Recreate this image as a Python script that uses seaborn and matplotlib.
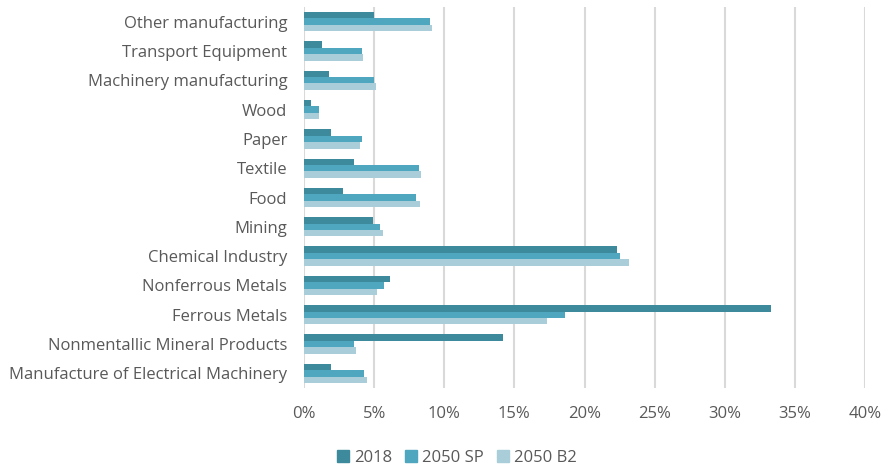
import matplotlib
matplotlib.use("Agg")
import matplotlib.pyplot as plt
import seaborn as sns
import pandas as pd
from matplotlib.ticker import FuncFormatter

categories = ["Other manufacturing", "Transport Equipment", "Machinery manufacturing", "Wood",
              "Paper", "Textile", "Food", "Mining", "Chemical Industry", "Nonferrous Metals",
              "Ferrous Metals", "Nonmentallic Mineral Products", "Manufacture of Electrical Machinery"]
v2018 = [5.0, 1.25, 1.75, 0.5, 1.95, 3.6, 2.8, 4.9, 22.3, 6.1, 33.3, 14.2, 1.95]
v2050sp = [9.0, 4.1, 5.0, 1.05, 4.1, 8.2, 8.0, 5.4, 22.5, 5.7, 18.6, 3.6, 4.3]
v2050b2 = [9.15, 4.2, 5.1, 1.05, 4.0, 8.35, 8.25, 5.6, 23.2, 5.2, 17.3, 3.7, 4.5]
series = ["2018", "2050 SP", "2050 B2"]
colors = ["#3d8a9d", "#4fa7bf", "#a9cdd9"]

rows = []
for s, vals in zip(series, [v2018, v2050sp, v2050b2]):
    for c, v in zip(categories, vals):
        rows.append({"category": c, "series": s, "value": v})
df = pd.DataFrame(rows)

sns.set_style("white")
plt.rcParams["font.family"] = ["Open Sans", "DejaVu Sans"]
text_color = "#595959"

fig = plt.figure(figsize=(8.84, 4.71), dpi=100)
ax = fig.add_axes([304 / 884, 1 - 388 / 471, (865 - 304) / 884, (388 - 7) / 471])
sns.barplot(data=df, y="category", x="value", hue="series", order=categories,
            hue_order=series, palette=colors, orient="h", width=0.66, ax=ax,
            saturation=1, edgecolor="none")
ax.set_xlim(0, 40)
ax.set_xticks(range(0, 41, 5))
ax.xaxis.set_major_formatter(FuncFormatter(lambda v, p: f"{int(v)}%"))
ax.grid(axis="x", color="#d9d9d9", linewidth=1.5)
ax.set_axisbelow(True)
for sp in ax.spines.values():
    sp.set_visible(False)
ax.set_xlabel("")
ax.set_ylabel("")
ax.tick_params(axis="both", length=0, labelsize=12, colors=text_color)
ax.tick_params(axis="x", pad=13)
ax.tick_params(axis="y", pad=12)
ax.legend_.remove()
handles = [plt.Rectangle((0, 0), 1, 1, color=c) for c in colors]
fig.legend(handles, series, loc="center", bbox_to_anchor=(457 / 884, 1 - 458 / 471),
           ncol=3, frameon=False, fontsize=12, labelcolor=text_color,
           handlelength=0.7, handleheight=0.7, handletextpad=0.3, columnspacing=0.8)
fig.savefig("out.png", dpi=100)
